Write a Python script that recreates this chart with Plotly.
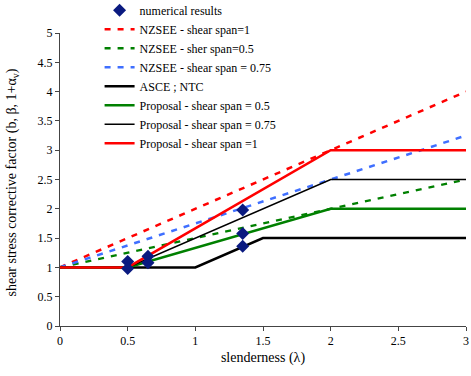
import plotly.graph_objects as go

# Data
x_line = [0, 3]
nzsee_1 = [1, 4]
nzsee_05 = [1, 2.5]
nzsee_075 = [1, 3.25]
asce_x = [0, 1, 1.5, 3]
asce_y = [1, 1, 1.5, 1.5]
prop_x = [0, 0.5, 2, 3]
prop_05 = [1, 1, 2, 2]
prop_075 = [1, 1, 2.5, 2.5]
prop_1 = [1, 1, 3, 3]
num_x = [0.5, 0.5, 0.65, 0.65, 1.35, 1.35, 1.35]
num_y = [1.10, 0.98, 1.08, 1.19, 1.36, 1.58, 1.98]

x_ticks = [0, 0.5, 1, 1.5, 2, 2.5, 3]
x_tick_text = ["0", "0.5", "1", "1.5", "2", "2.5", "3"]
y_ticks = [0, 0.5, 1, 1.5, 2, 2.5, 3, 3.5, 4, 4.5, 5]
y_tick_text = ["0", "0.5", "1", "1.5", "2", "2.5", "3", "3.5", "4", "4.5", "5"]

font_family = "Liberation Serif"
dash = "6px,7px"

fig = go.Figure()
fig.add_trace(go.Scatter(x=x_line, y=nzsee_1, mode="lines", name="NZSEE - shear span=1",
                         line=dict(color="#ff0000", width=2.5, dash=dash), legendrank=2))
fig.add_trace(go.Scatter(x=x_line, y=nzsee_05, mode="lines", name="NZSEE - sher span=0.5",
                         line=dict(color="#008000", width=2.5, dash=dash), legendrank=3))
fig.add_trace(go.Scatter(x=x_line, y=nzsee_075, mode="lines", name="NZSEE - shear span = 0.75",
                         line=dict(color="#3f6fff", width=2.5, dash=dash), legendrank=4))
fig.add_trace(go.Scatter(x=asce_x, y=asce_y, mode="lines", name="ASCE ; NTC",
                         line=dict(color="#000000", width=2.5), legendrank=5))
fig.add_trace(go.Scatter(x=prop_x, y=prop_05, mode="lines", name="Proposal - shear span = 0.5",
                         line=dict(color="#008000", width=2.5), legendrank=6))
fig.add_trace(go.Scatter(x=prop_x, y=prop_075, mode="lines", name="Proposal - shear span = 0.75",
                         line=dict(color="#000000", width=1.6), legendrank=7))
fig.add_trace(go.Scatter(x=prop_x, y=prop_1, mode="lines", name="Proposal - shear span =1",
                         line=dict(color="#ff0000", width=2.5), legendrank=8))
fig.add_trace(go.Scatter(x=num_x, y=num_y, mode="markers", name="numerical results",
                         marker=dict(symbol="diamond", color="#0a1a80", size=10), legendrank=1))

axis_common = dict(showgrid=False, zeroline=False, showline=True, linecolor="#444444",
                   linewidth=1, ticks="outside", ticklen=4, tickcolor="#444444",
                   automargin=False, ticklabeloverflow="allow",
                   tickfont=dict(family=font_family, size=12, color="#000000"))

fig.update_layout(
    width=471, height=376,
    margin=dict(l=60, r=5, t=33, b=50, autoexpand=False),
    paper_bgcolor="white", plot_bgcolor="white",
    font=dict(family=font_family, color="#000000"),
    showlegend=True,
    legend=dict(x=0.0975, y=1.127, xanchor="left", yanchor="top",
                bgcolor="rgba(0,0,0,0)", font=dict(family=font_family, size=12),
                tracegroupgap=0, itemwidth=30),
    xaxis=dict(range=[0, 3], tickvals=x_ticks, ticktext=x_tick_text,
               title=dict(text="slenderness (λ)", font=dict(family=font_family, size=14), standoff=4),
               **axis_common),
    yaxis=dict(range=[0, 5], tickvals=y_ticks, ticktext=y_tick_text, **axis_common),
    annotations=[dict(text="shear stress corrective factor (b, β, 1+α<sub>v</sub>)",
                      xref="paper", yref="paper", x=-0.118, y=0.49,
                      xanchor="center", yanchor="middle", textangle=-90, showarrow=False,
                      font=dict(family=font_family, size=14, color="#000000"))],
)

fig.write_html("out.html", config={"displayModeBar": False},
               post_script="document.body.style.margin='0';")
